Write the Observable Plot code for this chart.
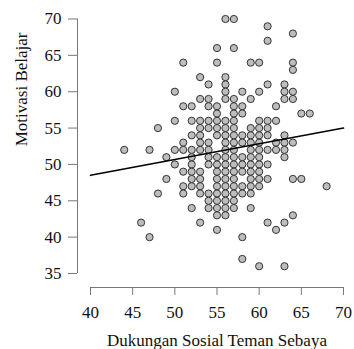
<!DOCTYPE html>
<html><head><meta charset="utf-8">
<script src="https://cdn.jsdelivr.net/npm/d3@7"></script>
<script src="https://cdn.jsdelivr.net/npm/@observablehq/plot@0.6"></script>
<style>body{margin:0;background:#fff}</style>
</head><body><div id="chart"></div>
<script>
// Motivasi Belajar (y) levels and the Dukungan Sosial (x) values observed at each level
const motivasiLevels = [70, 69, 68, 67, 66, 64, 63, 62, 61, 60, 59, 58, 57, 56, 55, 54, 53, 52, 51, 50, 49, 48, 47, 46, 45, 44, 43, 42, 41, 40, 37, 36];
const dukunganAtLevel = [
  [56, 57],
  [61],
  [64],
  [61],
  [55, 57],
  [51, 55, 59, 60, 64],
  [64],
  [53, 56],
  [54, 56, 61, 63],
  [50, 56, 58, 60, 63, 64],
  [53, 54, 56, 57, 59, 63, 64],
  [51, 52, 54, 55, 57, 58, 62],
  [55, 57, 58, 65, 66],
  [50, 52, 53, 54, 55, 56, 57, 60, 61, 62],
  [48, 53, 54, 55, 56, 57, 59, 60, 61],
  [52, 53, 55, 56, 57, 58, 59, 60, 61, 63],
  [51, 53, 54, 56, 57, 58, 59, 60, 62, 63, 64],
  [44, 47, 50, 51, 52, 53, 54, 56, 57, 59, 60, 61, 62, 63],
  [49, 52, 54, 55, 56, 57, 58, 59, 60, 63],
  [50, 52, 54, 55, 56, 57, 58, 59, 60, 61],
  [51, 52, 53, 55, 56, 57, 58, 59, 60],
  [49, 52, 53, 55, 56, 57, 59, 60, 61, 64, 65],
  [51, 52, 53, 55, 56, 57, 58, 59, 60, 68],
  [48, 51, 53, 54, 55, 56, 57, 58, 59],
  [54, 55, 56, 57],
  [52, 54, 55, 56, 57, 59],
  [55, 56, 64],
  [46, 53, 61, 63],
  [55, 62],
  [47, 58],
  [58],
  [60, 63]
];
const xTicks = [40, 45, 50, 55, 60, 65, 70];
const yTicks = [35, 40, 45, 50, 55, 60, 65, 70];
// fitted regression line
const fitX = [40, 70];
const fitY = [48.5, 55];
const xTitle = "Dukungan Sosial Teman Sebaya";
const yTitle = "Motivasi Belajar";

const points = motivasiLevels.flatMap((y, i) => dukunganAtLevel[i].map(x => ({x, y})));
const fit = fitX.map((x, i) => ({x, y: fitY[i]}));

const chart = Plot.plot({
  width: 354, height: 349,
  marginLeft: 90, marginRight: 11, marginTop: 18.5, marginBottom: 76,
  x: {domain: [40, 70]},
  y: {domain: [35, 70]},
  style: {fontFamily: "'Liberation Serif', 'Times New Roman', serif", fontSize: "17px", background: "#fff", color: "#111"},
  marks: [
    Plot.ruleY([35], {dy: 14, stroke: "#777", strokeWidth: 1}),
    Plot.ruleX([40], {dx: -13, stroke: "#777", strokeWidth: 1}),
    Plot.axisX({ticks: xTicks, anchor: "bottom", tickSize: 8, tickPadding: 10, dy: 14, stroke: "#777", fill: "#111", label: null}),
    Plot.axisY({ticks: yTicks, anchor: "left", tickSize: 9, tickPadding: 7, dx: -13, stroke: "#777", fill: "#111", label: null}),
    Plot.dot(points, {x: "x", y: "y", r: 3.6, fill: "#bdbdbd", stroke: "#333", strokeWidth: 1}),
    Plot.line(fit, {x: "x", y: "y", stroke: "#000", strokeWidth: 1.6}),
    Plot.text([xTitle], {frameAnchor: "bottom", lineAnchor: "bottom", dy: 72, text: d => d, fill: "#111"}),
    Plot.text([yTitle], {frameAnchor: "left", rotate: -90, dx: -69, text: d => d, fill: "#111"})
  ]
});
document.getElementById("chart").appendChild(chart);
</script>
</body></html>
